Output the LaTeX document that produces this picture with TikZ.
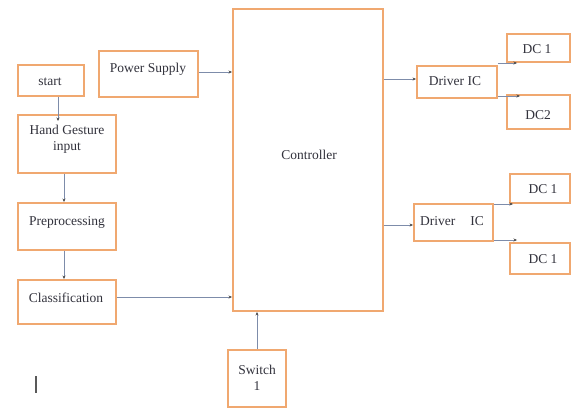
\documentclass[tikz,border=0pt]{standalone}
\usepackage{fontspec}
\setmainfont{Liberation Serif}
\usetikzlibrary{arrows.meta}
\definecolor{boxor}{RGB}{240,168,112}
\definecolor{connc}{RGB}{125,140,170}
\definecolor{txtc}{RGB}{50,50,60}
\tikzset{
  blk/.style={draw=boxor, line width=1.9pt, rectangle, inner sep=0pt},
  lbl/.style={text=txtc, font=\fontsize{13.5}{16}\selectfont, inner sep=0pt, align=center},
  conn/.style={draw=connc, line width=0.6pt, -{Stealth[length=3.5pt,width=3pt,color=black!70]}}
}
\begin{document}
\begin{tikzpicture}[x=1pt,y=-1pt]
\useasboundingbox[fill=white] (0,0) rectangle (572,410);
% boxes
\node[blk, minimum width=66pt, minimum height=31pt] (start) at (51,80.5) {};
\node[blk, minimum width=99pt, minimum height=46pt] (power) at (148.5,74) {};
\node[blk, minimum width=98pt, minimum height=58pt] (hand) at (67,144) {};
\node[blk, minimum width=98pt, minimum height=47pt] (prep) at (67,226.5) {};
\node[blk, minimum width=98pt, minimum height=44pt] (class) at (67,302) {};
\node[blk, minimum width=150pt, minimum height=302pt] (ctrl) at (308,160) {};
\node[blk, minimum width=58pt, minimum height=57pt] (switch) at (257,378.5) {};
\node[blk, minimum width=80pt, minimum height=32pt] (drv1) at (457,82) {};
\node[blk, minimum width=63pt, minimum height=28pt] (dc1a) at (538.5,48) {};
\node[blk, minimum width=63pt, minimum height=34pt] (dc2) at (538.5,112) {};
\node[blk, minimum width=79pt, minimum height=37pt] (drv2) at (453.5,222.5) {};
\node[blk, minimum width=60pt, minimum height=29pt] (dc1b) at (540,188.5) {};
\node[blk, minimum width=60pt, minimum height=31pt] (dc1c) at (540,258.5) {};
% texts
\node[lbl] (startt) at (50,82) {start};
\node[lbl] (powert) at (148,69) {Power Supply};
\node[lbl] (handt) at (67,139) {Hand Gesture\\input};
\node[lbl] (prept) at (67,222) {Preprocessing};
\node[lbl] (classt) at (66,298) {Classification};
\node[lbl] (ctrlt) at (309,155) {Controller};
\node[lbl] (switcht) at (257,378) {Switch\\1};
\node[lbl] (drv1t) at (455,81) {Driver IC};
\node[lbl] (dc1at) at (537,49) {DC 1};
\node[lbl] (dc2t) at (538,115) {DC2};
\node[lbl] (drv2t) at (452,221) {Driver\hspace{1.1em}IC};
\node[lbl] (dc1bt) at (543,189) {DC 1};
\node[lbl] (dc1ct) at (543,259) {DC 1};
% connectors
\coordinate (st1) at (58,121);
\draw[conn] (start.south -| st1) -- (st1);
\draw[conn] ([xshift=-3pt]hand.south) -- ([xshift=-3pt]prep.north);
\draw[conn] ([xshift=-3pt]prep.south) -- ([xshift=-3pt]class.north);
\draw[conn] ([yshift=5pt]class.east) -- ([yshift=5pt]class.east -| ctrl.west);
\draw[conn] ([yshift=2pt]power.east) -- ([yshift=2pt]power.east -| ctrl.west);
\draw[conn] ([yshift=3pt]drv1.west -| ctrl.east) -- ([yshift=3pt]drv1.west);
\coordinate (a1) at (517,63);
\coordinate (a2) at (520,96);
\draw[conn] (drv1.north east |- a1) -- (a1);
\draw[conn] (drv1.north east |- a2) -- (a2);
\draw[conn] ([yshift=-2.5pt]drv2.west -| ctrl.east) -- ([yshift=-2.5pt]drv2.west);
\coordinate (b1) at (513,204);
\coordinate (b2) at (517,240);
\draw[conn] (drv2.north east |- b1) -- (b1);
\draw[conn] (drv2.north east |- b2) -- (b2);
\draw[conn] (switch.north) -- (switch.north |- ctrl.south);
% stray bar
\draw[line width=1.3pt, black!65] (36,376) -- (36,393);
\end{tikzpicture}
\end{document}
